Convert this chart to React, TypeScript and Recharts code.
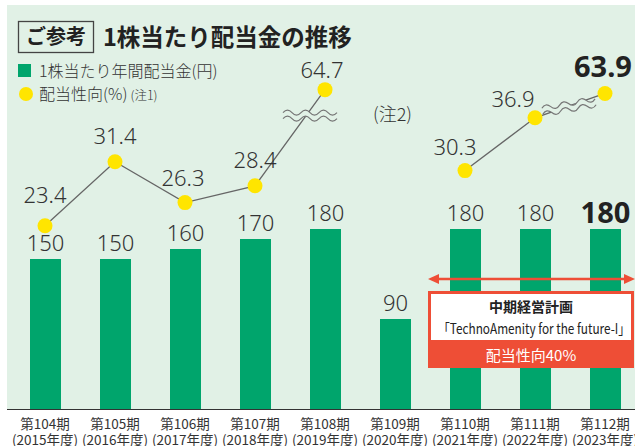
import { Bar, ComposedChart, LabelList, Line, XAxis, YAxis } from "recharts";

const periods = ["第104期", "第105期", "第106期", "第107期", "第108期", "第109期", "第110期", "第111期", "第112期"];
const fiscalYears = ["(2015年度)", "(2016年度)", "(2017年度)", "(2018年度)", "(2019年度)", "(2020年度)", "(2021年度)", "(2022年度)", "(2023年度)"];
const dividend = [150, 150, 160, 170, 180, 90, 180, 180, 180];
const payoutRatio: (number | null)[] = [23.4, 31.4, 26.3, 28.4, 64.7, null, 30.3, 36.9, 63.9];

// broken axis: values above the break are squeezed down under the top
const BREAK = 50;
const shown = (v: number | null) => (v == null ? null : v > BREAK ? 40 + (v - 64) * 0.6 : v);

const data = periods.map((p, i) => ({
  period: p,
  dividend: dividend[i],
  ratio: payoutRatio[i],
  ratioPlot: shown(payoutRatio[i]),
}));

const BG = "#e1f1e6";
const GREEN = "#00a56c";
const YELLOW = "#ffe500";
const RED = "#ee4e36";
const TEXT = "#333";
const FONT = "'Noto Sans', 'Noto Sans CJK JP', sans-serif";
const JP = "'Noto Sans CJK JP', sans-serif";

// label offsets (baseline relative to the dot) per point
const ratioLabelOffset = [
  [0, -23], [0, -18], [-2, -17], [0, -18], [-3, -12], [0, 0], [-10, -16], [-22, -11], [-2, -16],
];
// break marks relative to the dot
const breakMarks: Record<number, { dx: number; dy: number; rot: number }> = {
  4: { dx: -15, dy: 26, rot: 0 },
  8: { dx: -36, dy: 13, rot: -10 },
};

const wave = "q 4.5 -5 9 0 t 9 0 t 9 0 t 9 0 t 9 0 t 9 0";

function RatioDot(props: any) {
  const { cx, cy, index } = props;
  if (cx == null || cy == null || payoutRatio[index] == null) return <g key={index} />;
  const mark = breakMarks[index];
  return (
    <g key={index}>
      {mark && (
        <g transform={`translate(${cx + mark.dx},${cy + mark.dy}) rotate(${mark.rot})`}>
          <path d={`M -27 -3 ${wave} L 27 3 q -4.5 5 -9 0 t -9 0 t -9 0 t -9 0 t -9 0 t -9 0 Z`} fill={BG} stroke="none" />
          <path d={`M -27 -3 ${wave}`} fill="none" stroke="#777" strokeWidth={1.2} />
          <path d={`M -27 3 ${wave}`} fill="none" stroke="#777" strokeWidth={1.2} />
        </g>
      )}
      <circle cx={cx} cy={cy} r={7.5} fill={YELLOW} />
    </g>
  );
}

function RatioLabel(props: any) {
  const { x, y, index } = props;
  const v = payoutRatio[index];
  if (v == null || x == null || y == null) return null;
  const [dx, dy] = ratioLabelOffset[index];
  const last = index === periods.length - 1;
  return (
    <text
      x={x + dx}
      y={y + dy}
      textAnchor="middle"
      fontFamily={FONT}
      fontSize={last ? 29 : 22}
      fontWeight={last ? 700 : 300}
      fill={last ? "#222" : TEXT}
    >
      {v.toFixed(1)}
    </text>
  );
}

function DividendLabel(props: any) {
  const { x, y, width, value, index } = props;
  const last = index === periods.length - 1;
  return (
    <text
      x={x + width / 2}
      y={y - (last ? 6 : 8)}
      textAnchor="middle"
      fontFamily={FONT}
      fontSize={last ? 29 : 22}
      fontWeight={last ? 700 : 300}
      fill={last ? "#222" : TEXT}
    >
      {value}
    </text>
  );
}

function PeriodTick(props: any) {
  const { x, y, payload, index } = props;
  return (
    <text x={x} y={y} textAnchor="middle" fontFamily={JP} fontSize={13.5} fill={TEXT}>
      <tspan x={x} dy={20}>{payload.value}</tspan>
      <tspan x={x} dy={15.5}>{fiscalYears[index]}</tspan>
    </text>
  );
}

export default function App() {
  return (
    <div style={{ position: "fixed", left: 0, top: 0, width: 635, height: 446, overflow: "hidden", background: "#fff" }}>
      <div
        style={{
          position: "absolute",
          left: 7,
          top: 5,
          width: 628,
          height: 404,
          background: BG,
          borderBottom: `1.5px solid ${TEXT}`,
        }}
      />
      <div style={{ position: "absolute", left: 0, top: 0 }}>
        <ComposedChart width={641} height={446} data={data} margin={{ top: 9, right: 1, bottom: 0, left: 10 }} barCategoryGap={0}>
          <XAxis
            dataKey="period"
            axisLine={false}
            tickLine={false}
            tickSize={0}
            tickMargin={0}
            height={37}
            interval={0}
            tick={<PeriodTick />}
          />
          <YAxis yAxisId="yen" hide domain={[0, 400]} />
          <YAxis yAxisId="pct" hide domain={[0.5, 50.5]} />
          <Bar yAxisId="yen" dataKey="dividend" fill={GREEN} barSize={31} isAnimationActive={false}>
            <LabelList dataKey="dividend" content={<DividendLabel />} />
          </Bar>
          <Line
            yAxisId="pct"
            dataKey="ratioPlot"
            stroke="#666"
            strokeWidth={1.3}
            connectNulls={false}
            dot={<RatioDot />}
            activeDot={false}
            isAnimationActive={false}
          >
            <LabelList dataKey="ratioPlot" content={<RatioLabel />} />
          </Line>
        </ComposedChart>
      </div>
      <svg width={635} height={446} style={{ position: "absolute", left: 0, top: 0, pointerEvents: "none" }}>
        <rect x={18.5} y={21.5} width={75} height={31} fill="none" stroke="#444" strokeWidth={1.3} />
        <text x={56} y={44} textAnchor="middle" fontFamily={JP} fontSize={20} fontWeight={700} fill="#222">ご参考</text>
        <text x={103} y={46} fontFamily={JP} fontSize={23.5} fontWeight={700} fill="#222">1株当たり配当金の推移</text>

        <rect x={18} y={64} width={13} height={13} fill={GREEN} />
        <text x={39} y={77} fontFamily={JP} fontSize={16} fill={TEXT} fontWeight={300}>1株当たり年間配当金(円)</text>
        <circle cx={26} cy={94} r={7} fill={YELLOW} />
        <text x={39} y={100} fontFamily={JP} fontSize={16} fill={TEXT} fontWeight={300}>
          配当性向(%)<tspan fontSize={12.5} dx={3}>(注1)</tspan>
        </text>

        <text x={373} y={121} fontFamily={JP} fontSize={18} fill={TEXT} fontWeight={300}>(注2)</text>

        <line x1={436} y1={279} x2={626} y2={279} stroke={RED} strokeWidth={2.5} />
        <polygon points="428,279 439,274 439,284" fill={RED} />
        <polygon points="635,279 624,274 624,284" fill={RED} />
        <rect x={429.5} y={292.5} width={203} height={74} fill="#fff" stroke={RED} strokeWidth={3} />
        <rect x={428} y={340} width={206} height={28} fill={RED} />
        <text x={531} y={312} textAnchor="middle" fontFamily={JP} fontSize={14} fontWeight={700} fill="#222">中期経営計画</text>
        <text x={534} y={334} textAnchor="middle" fontFamily={JP} fontSize={14} fill="#222" textLength={192} lengthAdjust="spacingAndGlyphs">
          「TechnoAmenity for the future-I」
        </text>
        <text x={531} y={361} textAnchor="middle" fontFamily={JP} fontSize={15} fill="#fff">配当性向40%</text>
      </svg>
    </div>
  );
}
